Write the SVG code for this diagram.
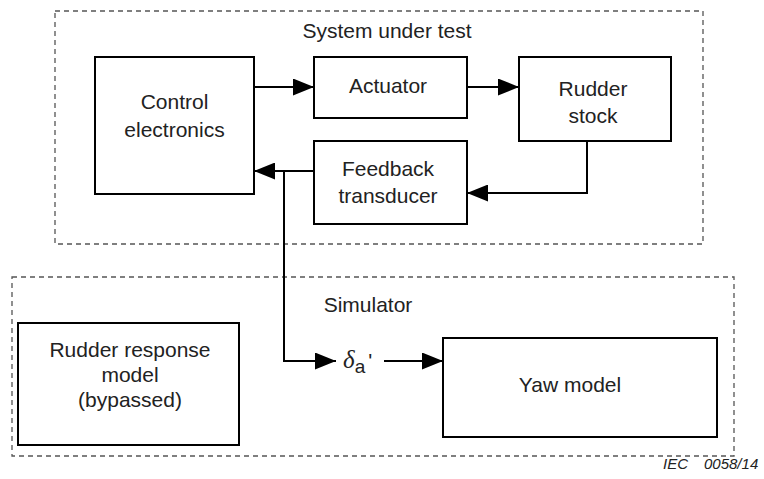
<svg xmlns="http://www.w3.org/2000/svg" width="764" height="479" viewBox="0 0 764 479">
<style>
.box{fill:#fff;stroke:#000;stroke-width:2}
.dash{fill:none;stroke:#555;stroke-width:1.3;stroke-dasharray:5 4}
.t{font-family:"Liberation Sans",Arial,sans-serif;font-size:21px;fill:#222;text-anchor:middle}
.ln{fill:none;stroke:#000;stroke-width:2}
</style>
<defs>
<marker id="ah" markerWidth="21" markerHeight="17" refX="21" refY="8.5" orient="auto" markerUnits="userSpaceOnUse">
<path d="M0,0 L21,8.5 L0,17 Z" fill="#000"/>
</marker>
</defs>
<rect width="764" height="479" fill="#fff"/>
<g id="system-under-test">
<rect class="dash" x="55" y="11" width="648" height="233"/>
<text class="t" x="387" y="38">System under test</text>
</g>
<g id="simulator">
<rect class="dash" x="12" y="277" width="722" height="179"/>
<text class="t" x="368" y="312">Simulator</text>
</g>
<g id="control-electronics">
<rect class="box" x="95" y="57" width="159" height="137"/>
<text class="t" x="174.5" y="109">Control</text>
<text class="t" x="174.5" y="137">electronics</text>
</g>
<g id="actuator">
<rect class="box" x="314" y="57" width="153" height="61"/>
<text class="t" x="388" y="93">Actuator</text>
</g>
<g id="rudder-stock">
<rect class="box" x="519" y="57" width="152" height="84"/>
<text class="t" x="593" y="96">Rudder</text>
<text class="t" x="593" y="123">stock</text>
</g>
<g id="feedback-transducer">
<rect class="box" x="314" y="141" width="153" height="83"/>
<text class="t" x="388" y="176">Feedback</text>
<text class="t" x="388" y="203">transducer</text>
</g>
<g id="rudder-response-model">
<rect class="box" x="18" y="323" width="221" height="122"/>
<text class="t" x="130" y="357">Rudder response</text>
<text class="t" x="130" y="382">model</text>
<text class="t" x="130" y="407">(bypassed)</text>
</g>
<g id="yaw-model">
<rect class="box" x="443" y="338" width="274" height="99"/>
<text class="t" x="570" y="392">Yaw model</text>
</g>
<g id="delta-label">
<text x="343" y="368" style="font-family:'Liberation Serif','Times New Roman',serif;font-style:italic;font-size:25px;fill:#222">δ<tspan style="font-family:'Liberation Sans',Arial,sans-serif;font-style:normal;font-size:19px" dy="5">a</tspan><tspan style="font-family:'Liberation Sans',Arial,sans-serif;font-style:normal;font-size:21px" dy="-5" dx="3">'</tspan></text>
</g>
<g id="connectors">
<line class="ln" x1="254" y1="87" x2="314" y2="87" marker-end="url(#ah)"/>
<line class="ln" x1="467" y1="87" x2="519" y2="87" marker-end="url(#ah)"/>
<polyline class="ln" points="587,141 587,193 467,193" marker-end="url(#ah)"/>
<line class="ln" x1="314" y1="171" x2="254" y2="171" marker-end="url(#ah)"/>
<polyline class="ln" points="284,171 284,361 336,361" marker-end="url(#ah)"/>
<line class="ln" x1="384" y1="361" x2="443" y2="361" marker-end="url(#ah)"/>
</g>
<text x="663" y="469" style="font-family:'Liberation Sans',Arial,sans-serif;font-style:italic;font-size:15px;fill:#222">IEC<tspan x="704">0058/14</tspan></text>
</svg>
